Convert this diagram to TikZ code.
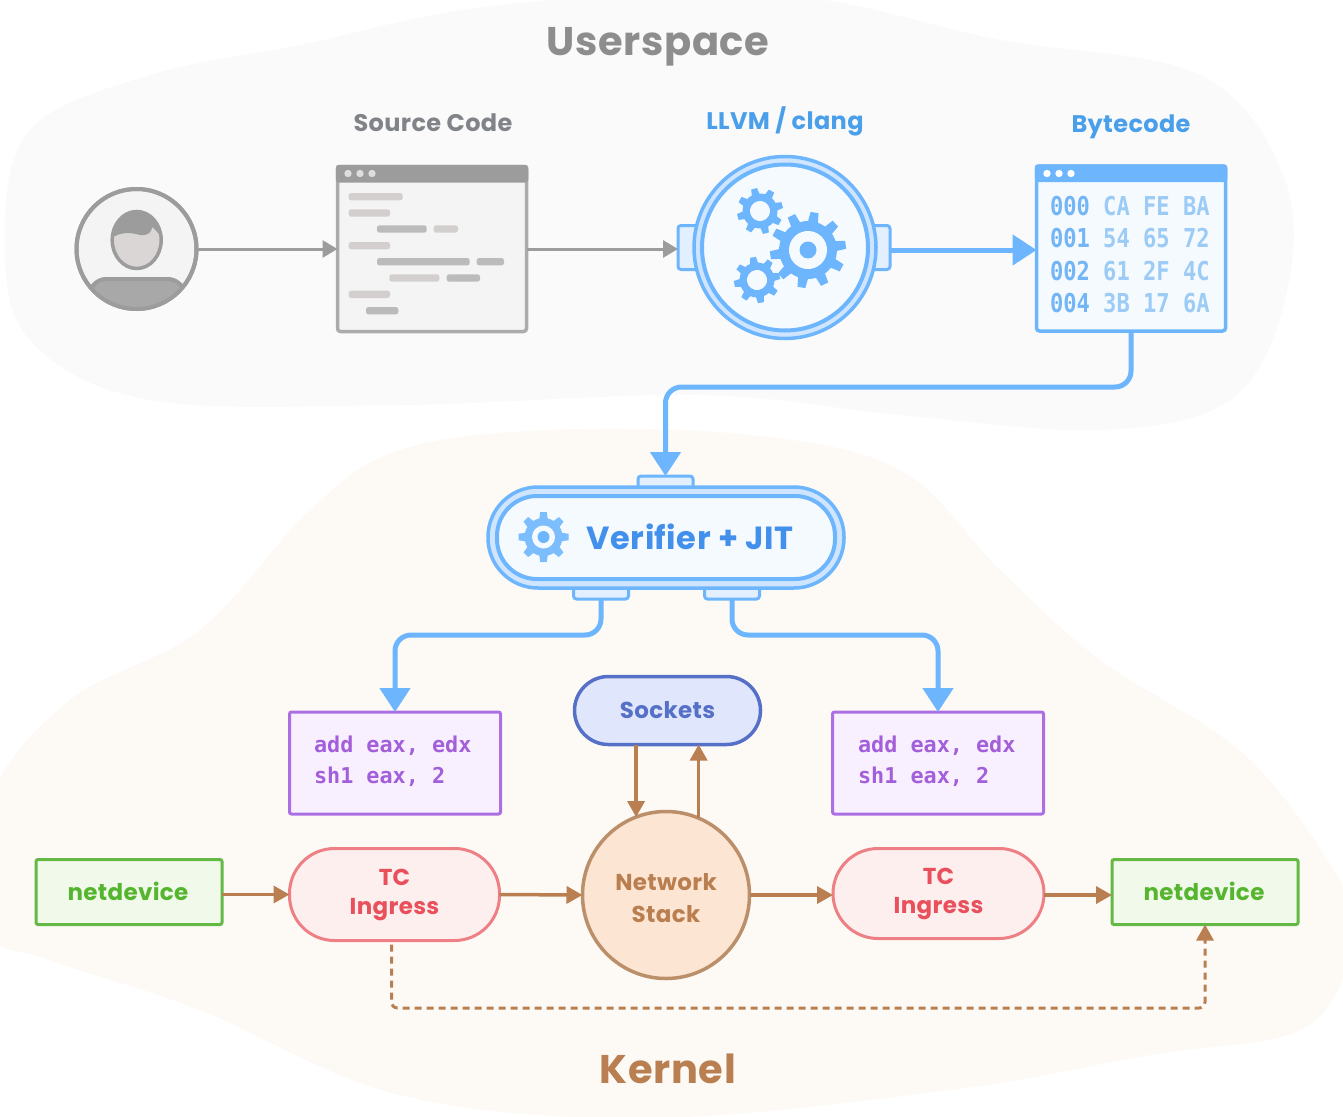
\documentclass[tikz,border=0pt]{standalone}
\usepackage{fontspec}
\setmainfont{Poppins}[LetterSpace=1.5]
\setmonofont{DejaVu Sans Mono}
\newfontfamily\hexfont{DejaVu Sans Mono}[FakeStretch=0.85]
\usetikzlibrary{arrows.meta,calc}
\definecolor{blueline}{HTML}{6DB6FD}
\definecolor{bluepale}{HTML}{CFE5FF}
\definecolor{bluefill}{HTML}{F5FAFF}
\definecolor{bluetext}{HTML}{4A9FEA}
\definecolor{hexone}{HTML}{73B5F5}
\definecolor{hextwo}{HTML}{9CCBF5}
\definecolor{greyline}{HTML}{9C9C9C}
\definecolor{greyfill}{HTML}{F4F4F4}
\definecolor{greytext}{HTML}{808488}
\definecolor{barlight}{HTML}{D3CFCF}
\definecolor{bardark}{HTML}{BBBBBB}
\definecolor{brown}{HTML}{B97F50}
\definecolor{netfill}{HTML}{FDE5D3}
\definecolor{netline}{HTML}{BC8F6B}
\definecolor{sockline}{HTML}{5670C8}
\definecolor{sockfill}{HTML}{E0E7FC}
\definecolor{tcline}{HTML}{EE8085}
\definecolor{tcfill}{HTML}{FEEFEF}
\definecolor{tctext}{HTML}{E8505B}
\definecolor{devline}{HTML}{63B944}
\definecolor{devfill}{HTML}{F1F9EA}
\definecolor{devtext}{HTML}{55B52E}
\definecolor{asmline}{HTML}{AC6FE3}
\definecolor{asmfill}{HTML}{F8F0FF}
\definecolor{asmtext}{HTML}{A35FD9}
\definecolor{userspacebg}{HTML}{FAFAFA}
\definecolor{kernelbg}{HTML}{FDFAF6}
\newcommand{\fsz}[1]{\fontsize{#1}{#1}\selectfont}
\newcommand{\mygear}[9]{% x y outer body hole teeth toothwidth colour rot
  \begin{scope}[shift={(#1,#2)},rotate=#9]
    \fill[#8] (0,0) circle[radius=#4];
    \foreach \a in {1,...,#6}{
      \fill[#8,rotate=\a*360/#6] (#4-1,-#7/2) -- (#3,-#7/2+1) -- (#3,#7/2-1) -- (#4-1,#7/2) -- cycle;
    }
    \fill[bluefill] (0,0) circle[radius=#5];
  \end{scope}}
\tikzset{
  every node/.style={inner sep=0pt,outer sep=0pt},
  heading/.style={font=\bfseries\fsz{24}},
  winbox/.style={draw,line width=3.5pt,rounded corners=3pt,minimum width=189pt,minimum height=165pt},
  asmbox/.style={draw=asmline,fill=asmfill,line width=3pt,rounded corners=2pt,minimum width=211pt,minimum height=102pt},
  tcpill/.style={draw=tcline,fill=tcfill,line width=3pt,rounded corners=45pt,minimum width=210pt,minimum height=92pt,font=\bfseries\fsz{23},text=tctext,align=center},
  devbox/.style={draw=devline,fill=devfill,line width=3pt,rounded corners=2pt,minimum width=186pt,minimum height=65pt,font=\bfseries\fsz{23},text=devtext},
  bluetab/.style={draw=blueline,fill=bluepale!60!white,line width=3pt,rounded corners=3pt},
  hexrow/.style={anchor=west,font=\hexfont\bfseries\fsz{26}},
  asmtxt/.style={anchor=west,font=\ttfamily\bfseries\fsz{21.8},text=asmtext},
  greyarrow/.style={draw=greyline,line width=3pt,-{Triangle[length=15pt,width=17pt]}},
  bluearrow/.style={draw=blueline,line width=5pt,rounded corners=16pt,-{Triangle[length=24pt,width=30pt]}},
  brownarrow/.style={draw=brown,line width=3.5pt,-{Triangle[length=16pt,width=17pt]}},
  dasharrow/.style={draw=brown,line width=3pt,dash pattern=on 7pt off 5pt,rounded corners=6pt,-{Triangle[length=16pt,width=17pt]}},
}
\begin{document}
\begin{tikzpicture}[x=1pt,y=-1pt]
\path[use as bounding box,fill=white] (0,0) rectangle (1343,1116);
\begin{scope}
\clip (0,0) rectangle (1343,1116);
\fill[userspacebg] plot[smooth cycle,tension=0.6] coordinates {(5,240) (30,130) (150,75) (300,45) (500,5) (780,-5) (1000,40) (1200,75) (1285,180) (1285,300) (1230,400) (1100,430) (900,415) (700,395) (400,405) (150,400) (30,340)};
\fill[kernelbg] plot[smooth cycle,tension=0.6] coordinates {(-10,800) (70,700) (200,630) (310,510) (400,450) (550,430) (750,435) (900,470) (1000,570) (1100,660) (1250,760) (1350,900) (1350,960) (1300,1030) (1150,1055) (950,1090) (650,1118) (400,1095) (200,1010) (50,960) (-10,930)};
\end{scope}
% titles
\node[font=\bfseries\fsz{40},text=greyline!90!black] (tuser) at (658,47) {Userspace};
\node[font=\bfseries\fsz{40},text=brown] (tkern) at (668,1069) {Kernel};
\node[heading,text=greytext] (tsrc) at (433,123) {Source Code};
\node[heading,text=bluetext] (tllvm) at (785,121) {LLVM / clang};
\node[heading,text=bluetext] (tbyte) at (1131,127) {Bytecode};
% user
\node[circle,draw=greyline,fill=greyfill,line width=4pt,minimum size=120pt] (user) at (136.5,249) {};
\begin{scope}
\clip (136.5,249) circle[radius=60];
\filldraw[fill=bardark!90!black,draw=greyline,line width=4pt,rounded corners=14pt] (85,320) -- (92,279) -- (182,279) -- (190,320) -- cycle;
\end{scope}
\draw[greyline,line width=4pt] (user) circle[radius=60];
\filldraw[fill=barlight!85!white,draw=greyline,line width=3.5pt] (136.7,240) ellipse[x radius=24.5,y radius=28.5];
\begin{scope}
\clip (136.7,240) ellipse[x radius=24.5,y radius=28.5];
\fill[greyline] (105,205) rectangle (170,226) (105,226) -- (112,238) .. controls (120,232) and (130,232) .. (140,235) .. controls (148,236) and (152,232) .. (152,227) .. controls (155,229) and (158,233) .. (162,238) -- (170,226) -- cycle;
\end{scope}
% source window
\node[winbox,draw=greyline!85!white,fill=greyfill] (src) at (432,249) {};
\fill[greyline,rounded corners=3pt] ([xshift=-1.75pt,yshift=1.75pt]src.north west) rectangle ([xshift=1.75pt,yshift=-16pt]src.north east);
\foreach \x in {348,360,372} \fill[barlight!70!white] (\x,173.5) circle[radius=3.7];
\foreach \a/\b/\y in {348.7/402.7/196.7, 348.7/390/213, 433.7/458/229, 348.7/390/245.7, 389.3/439.3/278, 348.7/390/294.3}
  \fill[barlight,rounded corners=2.5pt] (\a,\y-3.7) rectangle (\b,\y+3.7);
\foreach \a/\b/\y in {377/426.7/229, 377/469.7/261.7, 476.7/504/261.7, 446.7/480/278, 366/398.3/310.7}
  \fill[bardark,rounded corners=2.5pt] (\a,\y-3.7) rectangle (\b,\y+3.7);
% LLVM
\node[bluetab,minimum width=30pt,minimum height=44pt] (earl) at (693,247.5) {};
\node[bluetab,minimum width=30pt,minimum height=44pt] (earr) at (875,247.5) {};
\node[circle,draw=blueline,fill=bluepale,line width=3.5pt,minimum size=182pt] (llvm) at (785,247.5) {};
\draw[blueline,line width=4pt,fill=bluefill] (llvm) circle[radius=83];
\mygear{808}{250}{38}{29}{19}{10}{10}{blueline}{8}
\fill[blueline] (808,250) circle[radius=8.5];
\mygear{760}{211}{23}{17.5}{10}{8}{8}{blueline}{15}
\mygear{757}{280}{23}{17.5}{10}{8}{8}{blueline}{10}
% bytecode window
\node[winbox,draw=blueline,fill=bluefill] (byte) at (1131,248.5) {};
\fill[blueline,rounded corners=3pt] ([xshift=-1.75pt,yshift=1.75pt]byte.north west) rectangle ([xshift=1.75pt,yshift=-16pt]byte.north east);
\foreach \x in {1047,1059,1071} \fill[white] (\x,173.5) circle[radius=3.7];
\node[hexrow] (h0) at (1050,206) {\textcolor{hexone}{000} \textcolor{hextwo}{CA FE BA}};
\node[hexrow] (h1) at (1050,238.5) {\textcolor{hexone}{001} \textcolor{hextwo}{54 65 72}};
\node[hexrow] (h2) at (1050,271) {\textcolor{hexone}{002} \textcolor{hextwo}{61 2F 4C}};
\node[hexrow] (h3) at (1050,303.5) {\textcolor{hexone}{004} \textcolor{hextwo}{3B 17 6A}};
% verifier
\node[bluetab,minimum width=55pt,minimum height=20pt] (vtop) at (665.5,486) {};
\node[bluetab,minimum width=55pt,minimum height=20pt] (vbl) at (601,589) {};
\node[bluetab,minimum width=55pt,minimum height=20pt] (vbr) at (732,589) {};
\node[draw=blueline,fill=bluepale,line width=3.5pt,rounded corners=50pt,minimum width=356pt,minimum height=101pt] (ver) at (666,537.5) {};
\node[draw=blueline,fill=bluefill,line width=4pt,rounded corners=40pt,minimum width=338pt,minimum height=83pt] (verin) at (666,537.5) {};
\mygear{543.5}{537}{25}{19}{11.5}{8}{8.5}{blueline!90!white}{0}
\fill[blueline] (543.5,537) circle[radius=6];
\node[font=\bfseries\fsz{32},text=bluetext!90!blue] (vtxt) at (690,537) {Verifier + JIT};
% lower nodes
\node[asmbox] (asml) at (395,763) {};
\node[asmtxt] (al1) at (314,746) {add eax, edx};
\node[asmtxt] (al2) at (314,777) {sh1 eax, 2};
\node[asmbox] (asmr) at (938,763) {};
\node[asmtxt] (ar1) at (858,746) {add eax, edx};
\node[asmtxt] (ar2) at (858,777) {sh1 eax, 2};
\node[draw=sockline,fill=sockfill,line width=3.5pt,rounded corners=34pt,minimum width=186pt,minimum height=68pt,font=\bfseries\fsz{23},text=sockline] (sock) at (667.5,710.5) {Sockets};
\node[circle,draw=netline,fill=netfill,line width=3.5pt,minimum size=167pt] (net) at (666,895) {};
\node[font=\bfseries\fsz{23},text=brown,align=center] (nettxt) at (666,898) {Network\\[9pt]Stack};
\node[tcpill] (tcl) at (394.5,894.5) {TC\\[6pt]Ingress};
\node[tcpill,minimum width=211pt,minimum height=90pt] (tcr) at (938.5,893.5) {TC\\[6pt]Ingress};
\node[devbox] (devl) at (129,892) {\raisebox{2pt}{netdevice\hspace{2pt}}};
\node[devbox] (devr) at (1205,892) {\raisebox{2pt}{netdevice\hspace{2pt}}};
% connectors
\coordinate (turn1) at (0,387);
\coordinate (turn2) at (0,635);
\coordinate (turn3) at (0,1008);
\draw[greyarrow] (user.east) -- (src.west);
\draw[greyarrow] (src.east) -- (earl.west |- src.east);
\draw[bluearrow] (earr.east |- 0,250) -- (byte.west |- 0,250);
\draw[bluearrow] (byte.south) -- (byte.south |- turn1) -- (vtop.north |- turn1) -- (vtop.north);
\draw[bluearrow] (vbl.south) -- (vbl.south |- turn2) -- (asml.north |- turn2) -- (asml.north);
\draw[bluearrow] (vbr.south) -- (vbr.south |- turn2) -- (asmr.north |- turn2) -- (asmr.north);
\draw[brownarrow] (devl.east |- tcl.west) -- (tcl.west);
\draw[brownarrow] (tcl.east) -- (net.west);
\draw[brownarrow] (net.east) -- (tcr.west |- net.east);
\draw[brownarrow] (tcr.east |- net.east) -- (devr.west |- net.east);
\draw[brownarrow] (net.111.7 |- sock.south) -- (net.111.7);
\draw[brownarrow] (net.67.6) -- (net.67.6 |- sock.south);
\draw[dasharrow] ([xshift=-3pt,yshift=-4pt]tcl.south) -- ([xshift=-3pt]tcl.south |- turn3) -- (devr.south |- turn3) -- (devr.south);
\end{tikzpicture}
\end{document}
